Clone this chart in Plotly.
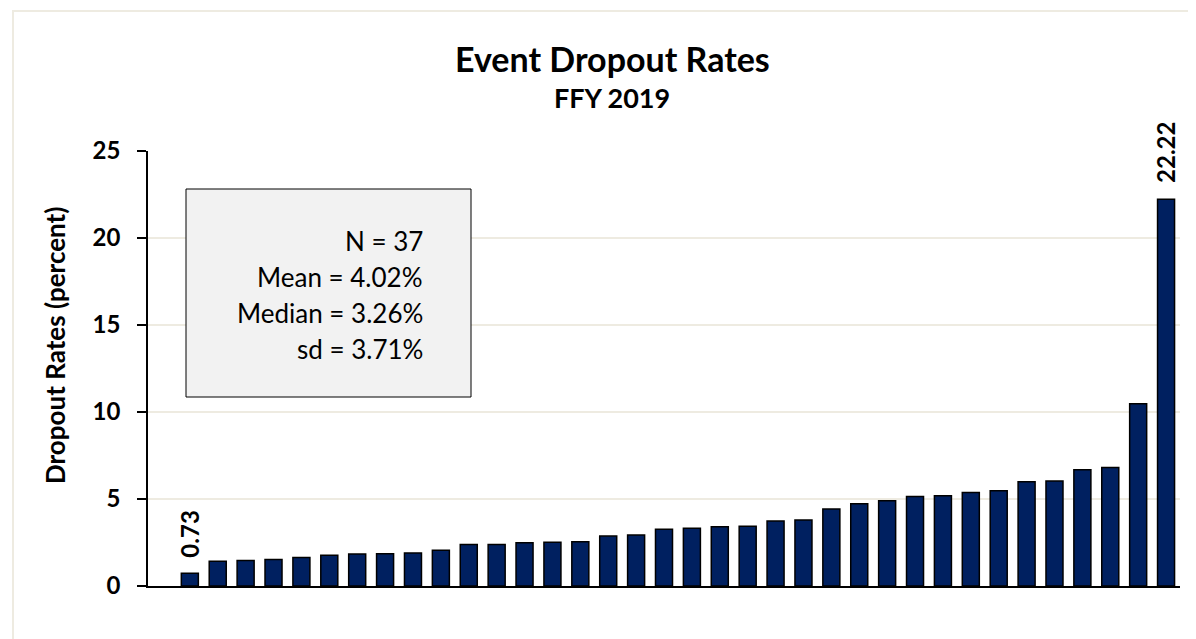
import plotly.graph_objects as go

# ---- data ----
categories = [f"S{i}" for i in range(1, 38)]
rates = [0.00, 0.73, 1.42, 1.47, 1.53, 1.64, 1.77, 1.84, 1.85, 1.90,
         2.06, 2.38, 2.39, 2.49, 2.51, 2.55, 2.87, 2.93, 3.26, 3.32,
         3.41, 3.43, 3.73, 3.80, 4.42, 4.72, 4.90, 5.14, 5.18, 5.37,
         5.47, 5.99, 6.03, 6.68, 6.81, 10.48, 22.22]
labelled = ["S2", "S37"]
y_ticks = [0, 5, 10, 15, 20, 25]
title = "Event Dropout Rates"
subtitle = "FFY 2019"
y_title = "Dropout Rates (percent)"
stats_lines = ["N = 37", "Mean = 4.02%", "Median = 3.26%", "sd = 3.71%"]

# ---- layout geometry (pixels) ----
W, H = 1196, 639
L, R, T, B = 140, 1172, 143, 578
pw, ph = R - L, B - T

def px(x):
    return (x - L) / pw

def py(y):
    return (B - y) / ph

FONT = "Lato, 'Open Sans', sans-serif"
NAVY = "#002060"
GRID = "#EEEBE1"

line_widths = [1.5 if v > 0 else 0 for v in rates]

fig = go.Figure(go.Bar(
    x=categories, y=rates,
    marker=dict(color=NAVY, line=dict(color="#000000", width=line_widths)),
    hoverinfo="x+y",
))

fig.update_layout(
    width=W, height=H,
    margin=dict(l=L, r=W - R, t=T, b=H - B, pad=0),
    paper_bgcolor="white", plot_bgcolor="white",
    bargap=0.39, showlegend=False,
    font=dict(family=FONT, color="#000000"),
)

fig.update_xaxes(
    range=[-0.5, len(categories) - 0.5],
    showline=True, linecolor="#000000", linewidth=1.5,
    showticklabels=False, ticks="", showgrid=False, zeroline=False,
)
fig.update_yaxes(
    range=[0, 25], tickvals=y_ticks,
    showline=True, linecolor="#000000", linewidth=1.5,
    ticks="outside", ticklen=9, tickcolor="#000000", tickwidth=1.5,
    tickfont=dict(family=FONT, size=24, color="#000000", weight="bold"),
    ticklabelstandoff=12,
    showgrid=True, gridcolor=GRID, gridwidth=1.5, zeroline=False,
)

shapes = [
    # outer chart border
    dict(type="rect", xref="paper", yref="paper",
         x0=px(5), x1=px(1190), y0=py(634), y1=py(3),
         line=dict(color=GRID, width=2), fillcolor="rgba(0,0,0,0)", layer="below"),
    # stats box
    dict(type="rect", xref="paper", yref="paper",
         x0=px(178), x1=px(463), y0=py(389), y1=py(181),
         line=dict(color="#000000", width=1), fillcolor="#F2F2F2", layer="above"),
]

annotations = [
    dict(text=f"<b>{title}</b>", xref="paper", yref="paper",
         x=px(604), y=py(50), xanchor="center", yanchor="middle",
         showarrow=False, font=dict(family=FONT, size=34, color="#000000")),
    dict(text=f"<b>{subtitle}</b>", xref="paper", yref="paper",
         x=px(604), y=py(90), xanchor="center", yanchor="middle",
         showarrow=False, font=dict(family=FONT, size=27, color="#000000")),
    dict(text=f"<b>{y_title}</b>", xref="paper", yref="paper",
         x=px(47), y=py(338), xanchor="center", yanchor="middle", textangle=-90,
         showarrow=False, font=dict(family=FONT, size=26, color="#000000")),
]
for i, line in enumerate(stats_lines):
    annotations.append(dict(
        text=line, xref="paper", yref="paper",
        x=px(417), y=py(233 + 36 * i), xanchor="right", yanchor="middle",
        showarrow=False, align="right",
        font=dict(family=FONT, size=26, color="#000000"),
    ))

# data labels on the smallest non-zero and the largest bar
for c, v in zip(categories, rates):
    if c in labelled:
        annotations.append(dict(
            text=f"<b>{v:.2f}</b>", x=c, y=v, xref="x", yref="y",
            xanchor="center", yanchor="bottom", yshift=14, textangle=-90,
            showarrow=False, font=dict(family=FONT, size=24, color="#000000"),
        ))

fig.update_layout(shapes=shapes, annotations=annotations)

fig.write_html("out.html")
